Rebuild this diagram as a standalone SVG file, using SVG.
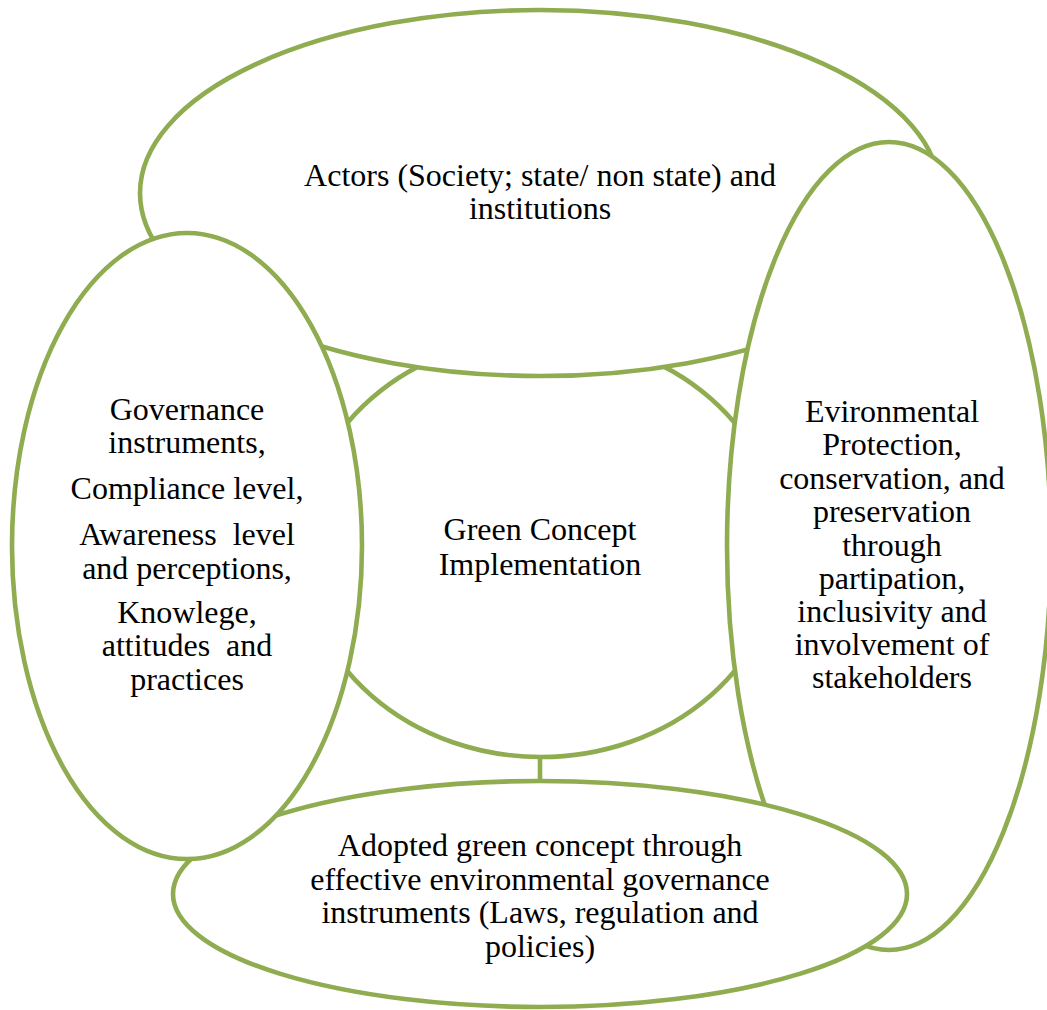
<svg xmlns="http://www.w3.org/2000/svg" width="1047" height="1010" viewBox="0 0 1047 1010">
  <style>
    .shape { fill: #ffffff; stroke: #8FAC50; stroke-width: 4.6; }
    .link { stroke: #8FAC50; stroke-width: 4.6; fill: none; }
    text { font-family: "Liberation Serif", "Times New Roman", serif; font-size: 32px; fill: #000000; text-anchor: middle; white-space: pre; }
  </style>
  <rect width="1047" height="1010" fill="#ffffff"/>

  <!-- connector between the core and the governance instruments ellipse -->
  <g id="connectors">
    <line class="link" x1="540" y1="757" x2="540" y2="782"/>
  </g>

  <!-- core: green concept implementation -->
  <g id="core">
    <ellipse class="shape" cx="541" cy="547" rx="240" ry="210"/>
    <text x="540" y="540">Green Concept</text>
    <text x="540" y="575">Implementation</text>
  </g>

  <!-- actors and institutions -->
  <g id="actors">
    <ellipse class="shape" cx="540" cy="193" rx="400" ry="183"/>
    <text x="540" y="186">Actors (Society; state/ non state) and</text>
    <text x="540" y="219">institutions</text>
  </g>

  <!-- environmental protection -->
  <g id="protection">
    <ellipse class="shape" cx="889" cy="546" rx="162" ry="404"/>
    <text x="892" y="422">Evironmental</text>
    <text x="892" y="455">Protection,</text>
    <text x="892" y="489">conservation, and</text>
    <text x="892" y="522">preservation</text>
    <text x="892" y="556">through</text>
    <text x="892" y="589">partipation,</text>
    <text x="892" y="622">inclusivity and</text>
    <text x="892" y="655">involvement of</text>
    <text x="892" y="688">stakeholders</text>
  </g>

  <!-- adopted green concept -->
  <g id="adopted">
    <ellipse class="shape" cx="540" cy="894" rx="367" ry="113"/>
    <text x="540" y="856">Adopted green concept through</text>
    <text x="540" y="890">effective environmental governance</text>
    <text x="540" y="923">instruments (Laws, regulation and</text>
    <text x="540" y="957">policies)</text>
  </g>

  <!-- governance, compliance, awareness -->
  <g id="governance">
    <ellipse class="shape" cx="187" cy="546" rx="175" ry="313"/>
    <text x="187" y="420">Governance</text>
    <text x="187" y="453">instruments,</text>
    <text x="187" y="499">Compliance level,</text>
    <text x="187" y="545">Awareness  level</text>
    <text x="187" y="579">and perceptions,</text>
    <text x="187" y="623">Knowlege,</text>
    <text x="187" y="656">attitudes  and</text>
    <text x="187" y="690">practices</text>
  </g>
</svg>
